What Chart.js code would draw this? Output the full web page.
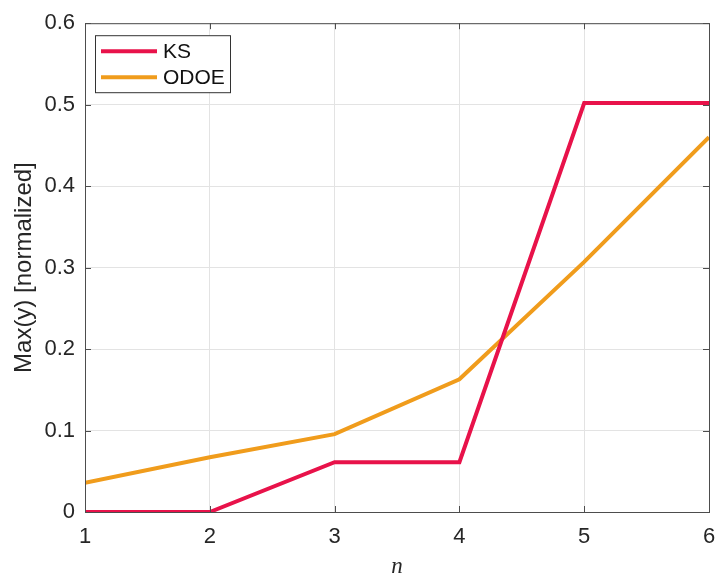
<!DOCTYPE html>
<html lang="en">
<head>
    <meta charset="UTF-8">
    <title>Max(y) vs n</title>
    <script src="https://cdn.jsdelivr.net/npm/chart.js"></script>
    <style>
        body {
            margin: 0;
            background: #fff;
        }
        canvas {
            display: block;
        }
    </style>
</head>
<body>
<canvas id="myChart" width="715" height="574"></canvas>

<script>
    const nValues = [1, 2, 3, 4, 5, 6];
    const ksValues = [0, 0, 0.0612, 0.0612, 0.502, 0.502];
    const odoeValues = [0.036, 0.0673, 0.0955, 0.163, 0.307, 0.46];
    const yTicks = [0, 0.1, 0.2, 0.3, 0.4, 0.5, 0.6];

    const axisColor = '#4d4d4d';
    const textColor = '#262626';
    const tickFont = { family: 'Liberation Sans, Arial, sans-serif', size: 22 };

    function toPoints(values) {
        return nValues.map((n, i) => ({ x: n, y: values[i] }));
    }

    // legend box inside the top-left corner, plus the closed box with inward ticks
    const boxPlugin = {
        id: 'boxPlugin',
        afterDraw(chart) {
            const ctx = chart.ctx;
            const area = chart.chartArea;
            const xs = chart.scales.x;
            const ys = chart.scales.y;

            ctx.save();
            ctx.strokeStyle = axisColor;
            ctx.lineWidth = 1;
            ctx.strokeRect(area.left + 0.5, area.top + 0.5, area.right - area.left, area.bottom - area.top);

            ctx.beginPath();
            nValues.forEach(n => {
                const px = Math.round(xs.getPixelForValue(n)) + 0.5;
                ctx.moveTo(px, area.bottom);
                ctx.lineTo(px, area.bottom - 6);
                ctx.moveTo(px, area.top);
                ctx.lineTo(px, area.top + 6);
            });
            yTicks.forEach(v => {
                const py = Math.round(ys.getPixelForValue(v)) + 0.5;
                ctx.moveTo(area.left, py);
                ctx.lineTo(area.left + 6, py);
                ctx.moveTo(area.right, py);
                ctx.lineTo(area.right - 6, py);
            });
            ctx.stroke();

            // legend
            const sets = chart.data.datasets;
            const bx = area.left + 10;
            const by = area.top + 12;
            const bw = 135;
            const bh = 57;
            ctx.fillStyle = '#fff';
            ctx.fillRect(bx, by, bw, bh);
            ctx.strokeStyle = '#333';
            ctx.strokeRect(bx + 0.5, by + 0.5, bw, bh);

            ctx.font = '21px Liberation Sans, Arial, sans-serif';
            ctx.textBaseline = 'middle';
            sets.forEach((ds, i) => {
                const ly = by + 16 + i * 26;
                ctx.strokeStyle = ds.borderColor;
                ctx.lineWidth = 4;
                ctx.beginPath();
                ctx.moveTo(bx + 6, ly);
                ctx.lineTo(bx + 62, ly);
                ctx.stroke();
                ctx.fillStyle = '#111';
                ctx.fillText(ds.label, bx + 68, ly + 1);
            });
            ctx.restore();
        }
    };

    new Chart(document.getElementById('myChart'), {
        type: 'line',
        data: {
            datasets: [
                {
                    label: 'KS',
                    data: toPoints(ksValues),
                    borderColor: '#e8124a',
                    borderWidth: 4,
                    pointRadius: 0,
                    tension: 0
                },
                {
                    label: 'ODOE',
                    data: toPoints(odoeValues),
                    borderColor: '#f09c1c',
                    borderWidth: 4,
                    pointRadius: 0,
                    tension: 0
                }
            ]
        },
        options: {
            responsive: false,
            animation: false,
            layout: { padding: { top: 22, right: 6, left: 0, bottom: 0 } },
            plugins: {
                legend: { display: false },
                tooltip: { enabled: false }
            },
            scales: {
                x: {
                    type: 'linear',
                    min: 1,
                    max: 6,
                    afterBuildTicks(scale) {
                        scale.ticks = nValues.map(v => ({ value: v }));
                    },
                    afterFit(scale) {
                        scale.height = 62;
                        // let the last label run off the edge instead of shrinking the plot
                        scale.paddingLeft = 0;
                        scale.paddingRight = 0;
                    },
                    grid: { color: '#e3e3e3', drawTicks: false },
                    border: { display: false },
                    ticks: {
                        color: textColor,
                        font: tickFont,
                        padding: 12,
                        maxRotation: 0
                    },
                    title: {
                        display: true,
                        text: 'n',
                        color: textColor,
                        font: { family: 'Liberation Serif, serif', style: 'italic', size: 23 },
                        padding: { top: 0, bottom: -7 }
                    }
                },
                y: {
                    min: 0,
                    max: 0.6,
                    afterBuildTicks(scale) {
                        scale.ticks = yTicks.map(v => ({ value: v }));
                    },
                    afterFit(scale) {
                        scale.width = 85;
                    },
                    grid: { color: '#e3e3e3', drawTicks: false },
                    border: { display: false },
                    ticks: {
                        color: textColor,
                        font: tickFont,
                        padding: 10,
                        callback: v => String(Math.round(v * 10) / 10)
                    },
                    title: {
                        display: true,
                        text: 'Max(y) [normalized]',
                        color: textColor,
                        font: { family: 'Liberation Sans, Arial, sans-serif', size: 24 },
                        padding: { top: 10, bottom: 0 }
                    }
                }
            }
        },
        plugins: [boxPlugin]
    });
</script>
</body>
</html>
